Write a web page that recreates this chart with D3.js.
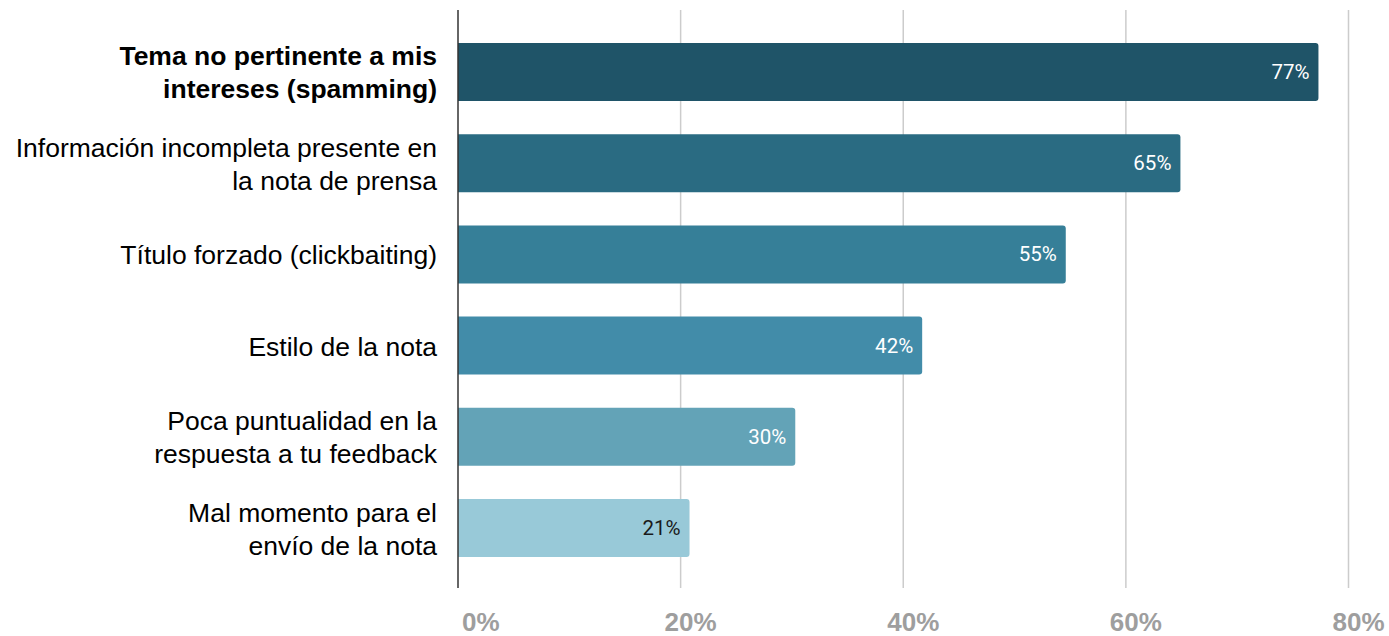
<!DOCTYPE html>
<html>
<head>
<meta charset="utf-8">
<script src="https://cdn.jsdelivr.net/npm/d3@7"></script>
<style>
  html, body { margin: 0; padding: 0; background: #ffffff; }
  svg { display: block; }
</style>
</head>
<body>
<svg id="chart" width="1389" height="636"></svg>
<script>
const categories = [
  "Tema no pertinente a mis\nintereses (spamming)",
  "Información incompleta presente en\nla nota de prensa",
  "Título forzado (clickbaiting)",
  "Estilo de la nota",
  "Poca puntualidad en la\nrespuesta a tu feedback",
  "Mal momento para el\nenvío de la nota"
];
const values = [77.3, 64.9, 54.6, 41.7, 30.3, 20.8];
const barColors = ["#1f5468", "#2a6b82", "#367f98", "#428ca9", "#63a3b7", "#98c9d8"];
const labelColors = ["#ffffff", "#ffffff", "#ffffff", "#ffffff", "#ffffff", "#1a1a1a"];
const boldCategory = [true, false, false, false, false, false];
const xTicks = [0, 20, 40, 60, 80];

const svg = d3.select("#chart");
const x = d3.scaleLinear().domain([0, 80]).range([458, 1348.5]);
const y = d3.scaleBand().domain(d3.range(categories.length))
  .range([9.8, 590.2]).paddingInner(0.364).paddingOuter(0.364);

// gridlines
svg.append("g").selectAll("line").data(xTicks.filter(d => d > 0)).join("line")
  .attr("x1", d => x(d)).attr("x2", d => x(d))
  .attr("y1", 10).attr("y2", 588)
  .attr("stroke", "#cccccc").attr("stroke-width", 1.5);

// bars with rounded right corners
function barPath(x0, x1, y0, h, r) {
  return `M${x0},${y0}H${x1 - r}Q${x1},${y0} ${x1},${y0 + r}V${y0 + h - r}Q${x1},${y0 + h} ${x1 - r},${y0 + h}H${x0}Z`;
}
svg.append("g").selectAll("path").data(values).join("path")
  .attr("d", (d, i) => barPath(x(0), x(d), y(i), y.bandwidth(), 3))
  .attr("fill", (d, i) => barColors[i]);

// value labels
svg.append("g").selectAll("text").data(values).join("text")
  .attr("x", d => x(d) - 9)
  .attr("y", (d, i) => y(i) + y.bandwidth() / 2 + 7)
  .attr("text-anchor", "end")
  .attr("font-family", "Roboto, sans-serif")
  .attr("font-size", 20.5)
  .attr("fill", (d, i) => labelColors[i])
  .text(d => Math.round(d) + "%");

// axis line
svg.append("line")
  .attr("x1", x(0)).attr("x2", x(0)).attr("y1", 10).attr("y2", 588)
  .attr("stroke", "#333333").attr("stroke-width", 1.5);

// category labels
const lh = 33;
const catG = svg.append("g");
categories.forEach((c, i) => {
  const lines = c.split("\n");
  const cy = y(i) + y.bandwidth() / 2;
  const t = catG.append("text")
    .attr("text-anchor", "end")
    .attr("font-family", "Arial, 'Liberation Sans', sans-serif")
    .attr("font-size", 26.5)
    .attr("font-weight", boldCategory[i] ? "bold" : "normal")
    .attr("fill", "#000000");
  lines.forEach((ln, j) => {
    t.append("tspan").attr("x", 437)
      .attr("y", cy + (j - (lines.length - 1) / 2) * lh + 10)
      .text(ln);
  });
});

// x tick labels
svg.append("g").selectAll("text").data(xTicks).join("text")
  .attr("x", d => d === 0 ? x(d) + 4 : x(d) + 10)
  .attr("y", 631)
  .attr("text-anchor", d => d === 0 ? "start" : "middle")
  .attr("font-family", "Arial, 'Liberation Sans', sans-serif")
  .attr("font-size", 26)
  .attr("font-weight", "bold")
  .attr("fill", "#9e9e9e")
  .text(d => d + "%");
</script>
</body>
</html>
